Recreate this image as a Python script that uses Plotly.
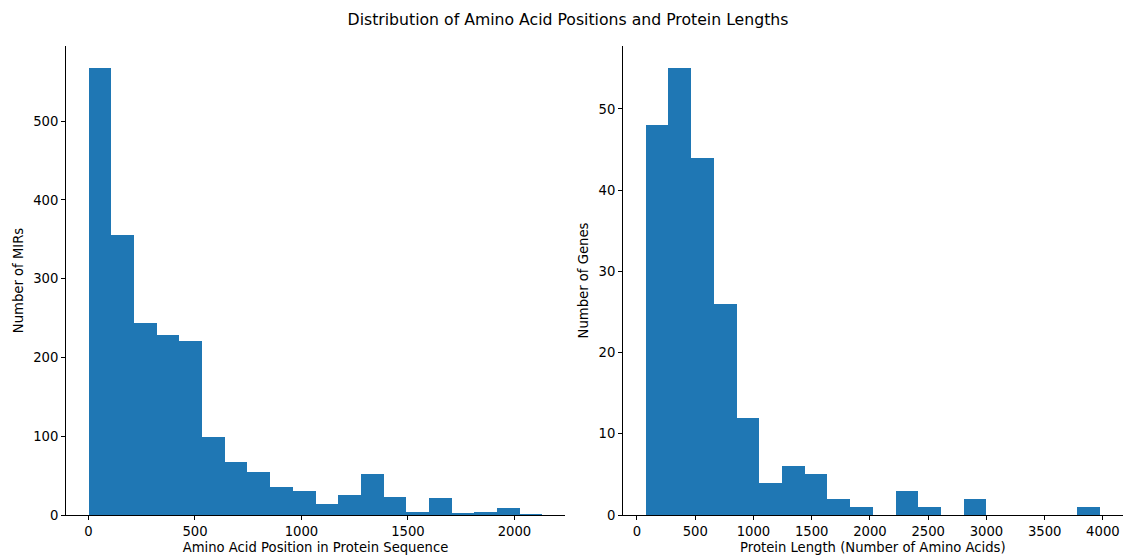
import numpy as np
import plotly.graph_objects as go

# ---- data ----
pos_counts = [567, 356, 244, 229, 221, 99, 67, 54, 35, 31, 14, 25, 52, 23, 4, 21, 2, 4, 9, 1]
pos_min, pos_max = 1, 2131

len_counts = [48, 55, 44, 26, 12, 4, 6, 5, 2, 1, 0, 3, 1, 0, 2, 0, 0, 0, 0, 1]
len_min, len_max = 75, 3975

title_text = "Distribution of Amino Acid Positions and Protein Lengths"
left_xlabel = "Amino Acid Position in Protein Sequence"
left_ylabel = "Number of MIRs"
right_xlabel = "Protein Length (Number of Amino Acids)"
right_ylabel = "Number of Genes"

BLUE = "#1f77b4"
FONT = "DejaVu Sans"
W, H = 1126, 558
FS = 13.2


def hist_bar(counts, lo, hi, xaxis, yaxis):
    edges = np.linspace(lo, hi, len(counts) + 1)
    widths = np.diff(edges)
    return go.Bar(
        x=edges[:-1], y=counts, width=widths, offset=0,
        marker=dict(color=BLUE, line=dict(width=0)),
        xaxis=xaxis, yaxis=yaxis, showlegend=False,
    )


def pad(lo, hi):
    m = (hi - lo) * 0.05
    return [lo - m, hi + m]


fig = go.Figure()
fig.add_trace(hist_bar(pos_counts, pos_min, pos_max, "x", "y"))
fig.add_trace(hist_bar(len_counts, len_min, len_max, "x2", "y2"))

ax_common = dict(
    showline=True, linecolor="#000000", linewidth=1,
    ticks="outside", ticklen=4, tickwidth=1, tickcolor="#000000",
    showgrid=False, zeroline=False, automargin=False,
    tickfont=dict(family=FONT, size=FS, color="#000000"),
)

y0 = (H - 515) / H
y1 = (H - 46) / H

fig.update_layout(
    width=W, height=H,
    margin=dict(l=0, r=0, t=0, b=0),
    paper_bgcolor="white", plot_bgcolor="white",
    font=dict(family=FONT, color="#000000"),
    bargap=0,
    title=dict(text=title_text, x=568 / W, xanchor="center",
               y=1 - 20 / H, yanchor="middle",
               font=dict(family=FONT, size=15.7, color="#000000")),
    xaxis=dict(domain=[66 / W, 565 / W], range=pad(pos_min, pos_max),
               tickmode="linear", tick0=0, dtick=500, anchor="y",
               title=dict(text=left_xlabel, standoff=4,
                          font=dict(family=FONT, size=FS)),
               **ax_common),
    yaxis=dict(domain=[y0, y1], range=[0, max(pos_counts) * 1.05],
               tickmode="linear", tick0=0, dtick=100, anchor="x",
               title=dict(text=left_ylabel, standoff=6,
                          font=dict(family=FONT, size=FS)),
               **ax_common),
    xaxis2=dict(domain=[623 / W, 1122.7 / W], range=pad(len_min, len_max),
                tickmode="linear", tick0=0, dtick=500, anchor="y2",
                title=dict(text=right_xlabel, standoff=4,
                           font=dict(family=FONT, size=FS)),
                **ax_common),
    yaxis2=dict(domain=[y0, y1], range=[0, max(len_counts) * 1.05],
                tickmode="linear", tick0=0, dtick=10, anchor="x2",
                title=dict(text=right_ylabel, standoff=6,
                           font=dict(family=FONT, size=FS)),
                **ax_common),
)

fig.write_html("out.html")
